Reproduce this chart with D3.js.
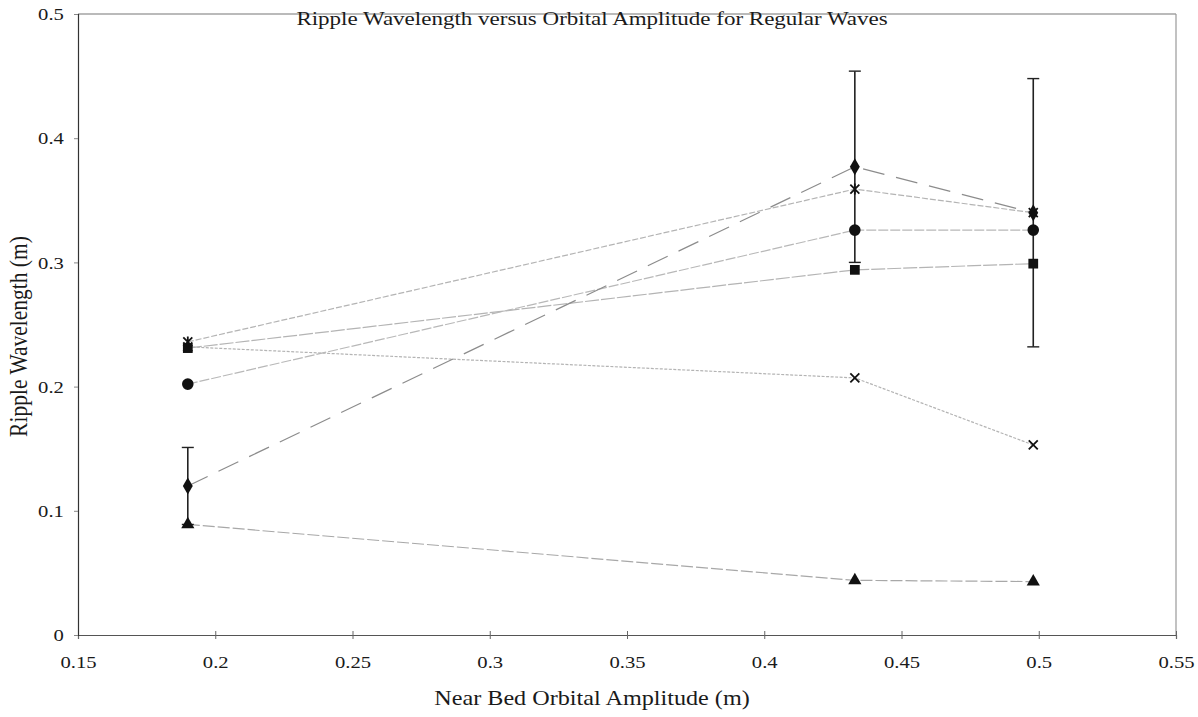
<!DOCTYPE html>
<html>
<head>
<meta charset="utf-8">
<script src="https://cdn.jsdelivr.net/npm/d3@7"></script>
<style>
  html, body { margin: 0; padding: 0; background: #fff; }
  svg { display: block; }
  svg text { font-family: "Liberation Serif", "DejaVu Serif", serif; fill: #1a1a1a; }
</style>
</head>
<body>
<div id="chart"></div>
<script>
// Ripple wavelength vs near-bed orbital amplitude, regular waves
const amplitudes = [0.19, 0.433, 0.498]

const diamondVals = [0.120, 0.377, 0.340]
const diamondErr = [0.031, 0.077, 0.108]
const starVals = [0.236, 0.359, 0.340]
const circleVals = [0.202, 0.326, 0.326]
const squareVals = [0.231, 0.294, 0.299]
const crossVals = [0.232, 0.207, 0.153]
const triangleVals = [0.089, 0.044, 0.043]

const xTicks = [0.15, 0.2, 0.25, 0.3, 0.35, 0.4, 0.45, 0.5, 0.55]
const yTicks = [0, 0.1, 0.2, 0.3, 0.4, 0.5]

const W = 1198, H = 717
const m = { left: 78, right: 22, top: 14, bottom: 82 }
// text in this figure is a bit wider than it is tall
const sx = 1.18
const serif = '"Liberation Serif", "DejaVu Serif", serif'

const svg = d3.select('#chart').append('svg')
  .attr('width', W)
  .attr('height', H)

const x = d3.scaleLinear().domain([0.15, 0.55]).range([m.left, W - m.right])
const y = d3.scaleLinear().domain([0, 0.5]).range([H - m.bottom, m.top])

// frame (top and right edges are lighter)
svg.append('line')
  .attr('x1', x(0.15)).attr('x2', x(0.55)).attr('y1', y(0.5)).attr('y2', y(0.5))
  .attr('stroke', '#777').attr('stroke-width', 1.2)
svg.append('line')
  .attr('x1', x(0.55)).attr('x2', x(0.55)).attr('y1', y(0.5)).attr('y2', y(0))
  .attr('stroke', '#999').attr('stroke-width', 1.2)

// axes
const xAxis = svg.append('g')
  .attr('transform', `translate(0,${y(0)})`)
  .call(d3.axisBottom(x).tickValues(xTicks).tickSize(4).tickFormat(d3.format('')))
xAxis.attr('font-family', serif)
xAxis.select('.domain').attr('stroke', '#555').attr('stroke-width', 1.2)
xAxis.selectAll('.tick line').attr('stroke', '#666').attr('y1', -4)
xAxis.selectAll('.tick text')
  .attr('y', 21)
  .attr('transform', `scale(${sx},1)`)
  .style('font-family', serif)
  .style('font-size', '17.5px')

const yAxis = svg.append('g')
  .attr('transform', `translate(${x(0.15)},0)`)
  .call(d3.axisLeft(y).tickValues(yTicks).tickSize(4).tickFormat(d3.format('')))
yAxis.attr('font-family', serif)
yAxis.select('.domain').attr('stroke', '#333').attr('stroke-width', 1.2)
yAxis.selectAll('.tick line').attr('stroke', '#888')
yAxis.selectAll('.tick text')
  .attr('x', -12)
  .attr('transform', `scale(${sx},1)`)
  .style('font-family', serif)
  .style('font-size', '17.5px')

// titles
svg.append('text')
  .attr('transform', `translate(592,25) scale(${sx},1)`)
  .attr('text-anchor', 'middle')
  .style('font-size', '19.5px')
  .text('Ripple Wavelength versus Orbital Amplitude for Regular Waves')

svg.append('text')
  .attr('transform', `translate(592,705) scale(${sx},1)`)
  .attr('text-anchor', 'middle')
  .style('font-size', '20.5px')
  .text('Near Bed Orbital Amplitude (m)')

svg.append('text')
  .attr('transform', `translate(27,${y(0.25) + 12}) scale(${sx},1) rotate(-90)`)
  .attr('text-anchor', 'middle')
  .style('font-size', '21.5px')
  .text('Ripple Wavelength (m)')

const series = [
  { vals: triangleVals, stroke: '#a8a8a8', dash: '12,3', marker: 'triangle' },
  { vals: crossVals, stroke: '#b4b4b4', dash: '3,1.5', marker: 'cross' },
  { vals: squareVals, stroke: '#b4b4b4', dash: '14,2', marker: 'square' },
  { vals: circleVals, stroke: '#b8b8b8', dash: '10,2', marker: 'circle' },
  { vals: starVals, stroke: '#b4b4b4', dash: '6,2', marker: 'star' },
  { vals: diamondVals, stroke: '#8c8c8c', dash: '22,12', marker: 'diamond' },
]

const line = d3.line()
  .x((d, i) => x(amplitudes[i]))
  .y(d => y(d))

const gLines = svg.append('g')
series.forEach(s => {
  gLines.append('path')
    .datum(s.vals)
    .attr('d', line)
    .attr('fill', 'none')
    .attr('stroke', s.stroke)
    .attr('stroke-width', 1.2)
    .attr('stroke-dasharray', s.dash)
})

// error bars on the diamond series
const gErr = svg.append('g')
diamondVals.forEach((v, i) => {
  const cx = x(amplitudes[i])
  const hi = y(v + diamondErr[i]), lo = y(v - diamondErr[i])
  gErr.append('line')
    .attr('x1', cx).attr('x2', cx).attr('y1', hi).attr('y2', lo)
    .attr('stroke', '#222').attr('stroke-width', 1.6)
  ;[hi, lo].forEach(yy => {
    gErr.append('line')
      .attr('x1', cx - 6).attr('x2', cx + 6).attr('y1', yy).attr('y2', yy)
      .attr('stroke', '#222').attr('stroke-width', 1.4)
  })
})

// markers
const symbolFor = {
  triangle: d3.symbol().type(d3.symbolTriangle).size(75),
  square: d3.symbol().type(d3.symbolSquare).size(95),
  circle: d3.symbol().type(d3.symbolCircle).size(105),
  diamond: d3.symbol().type(d3.symbolDiamond).size(85),
}

const gMarks = svg.append('g')
series.forEach(s => {
  s.vals.forEach((v, i) => {
    const cx = x(amplitudes[i]), cy = y(v)
    const g = gMarks.append('g').attr('transform', `translate(${cx},${cy})`)
    if (s.marker === 'cross' || s.marker === 'star') {
      const r = 4.5
      g.append('path')
        .attr('d', `M${-r},${-r}L${r},${r}M${-r},${r}L${r},${-r}` + (s.marker === 'star' ? `M0,${-r - 1}L0,${r + 1}` : ''))
        .attr('stroke', '#111').attr('stroke-width', 1.8).attr('fill', 'none')
    } else {
      g.append('path').attr('d', symbolFor[s.marker]()).attr('fill', '#111')
    }
  })
})
</script>
</body>
</html>
